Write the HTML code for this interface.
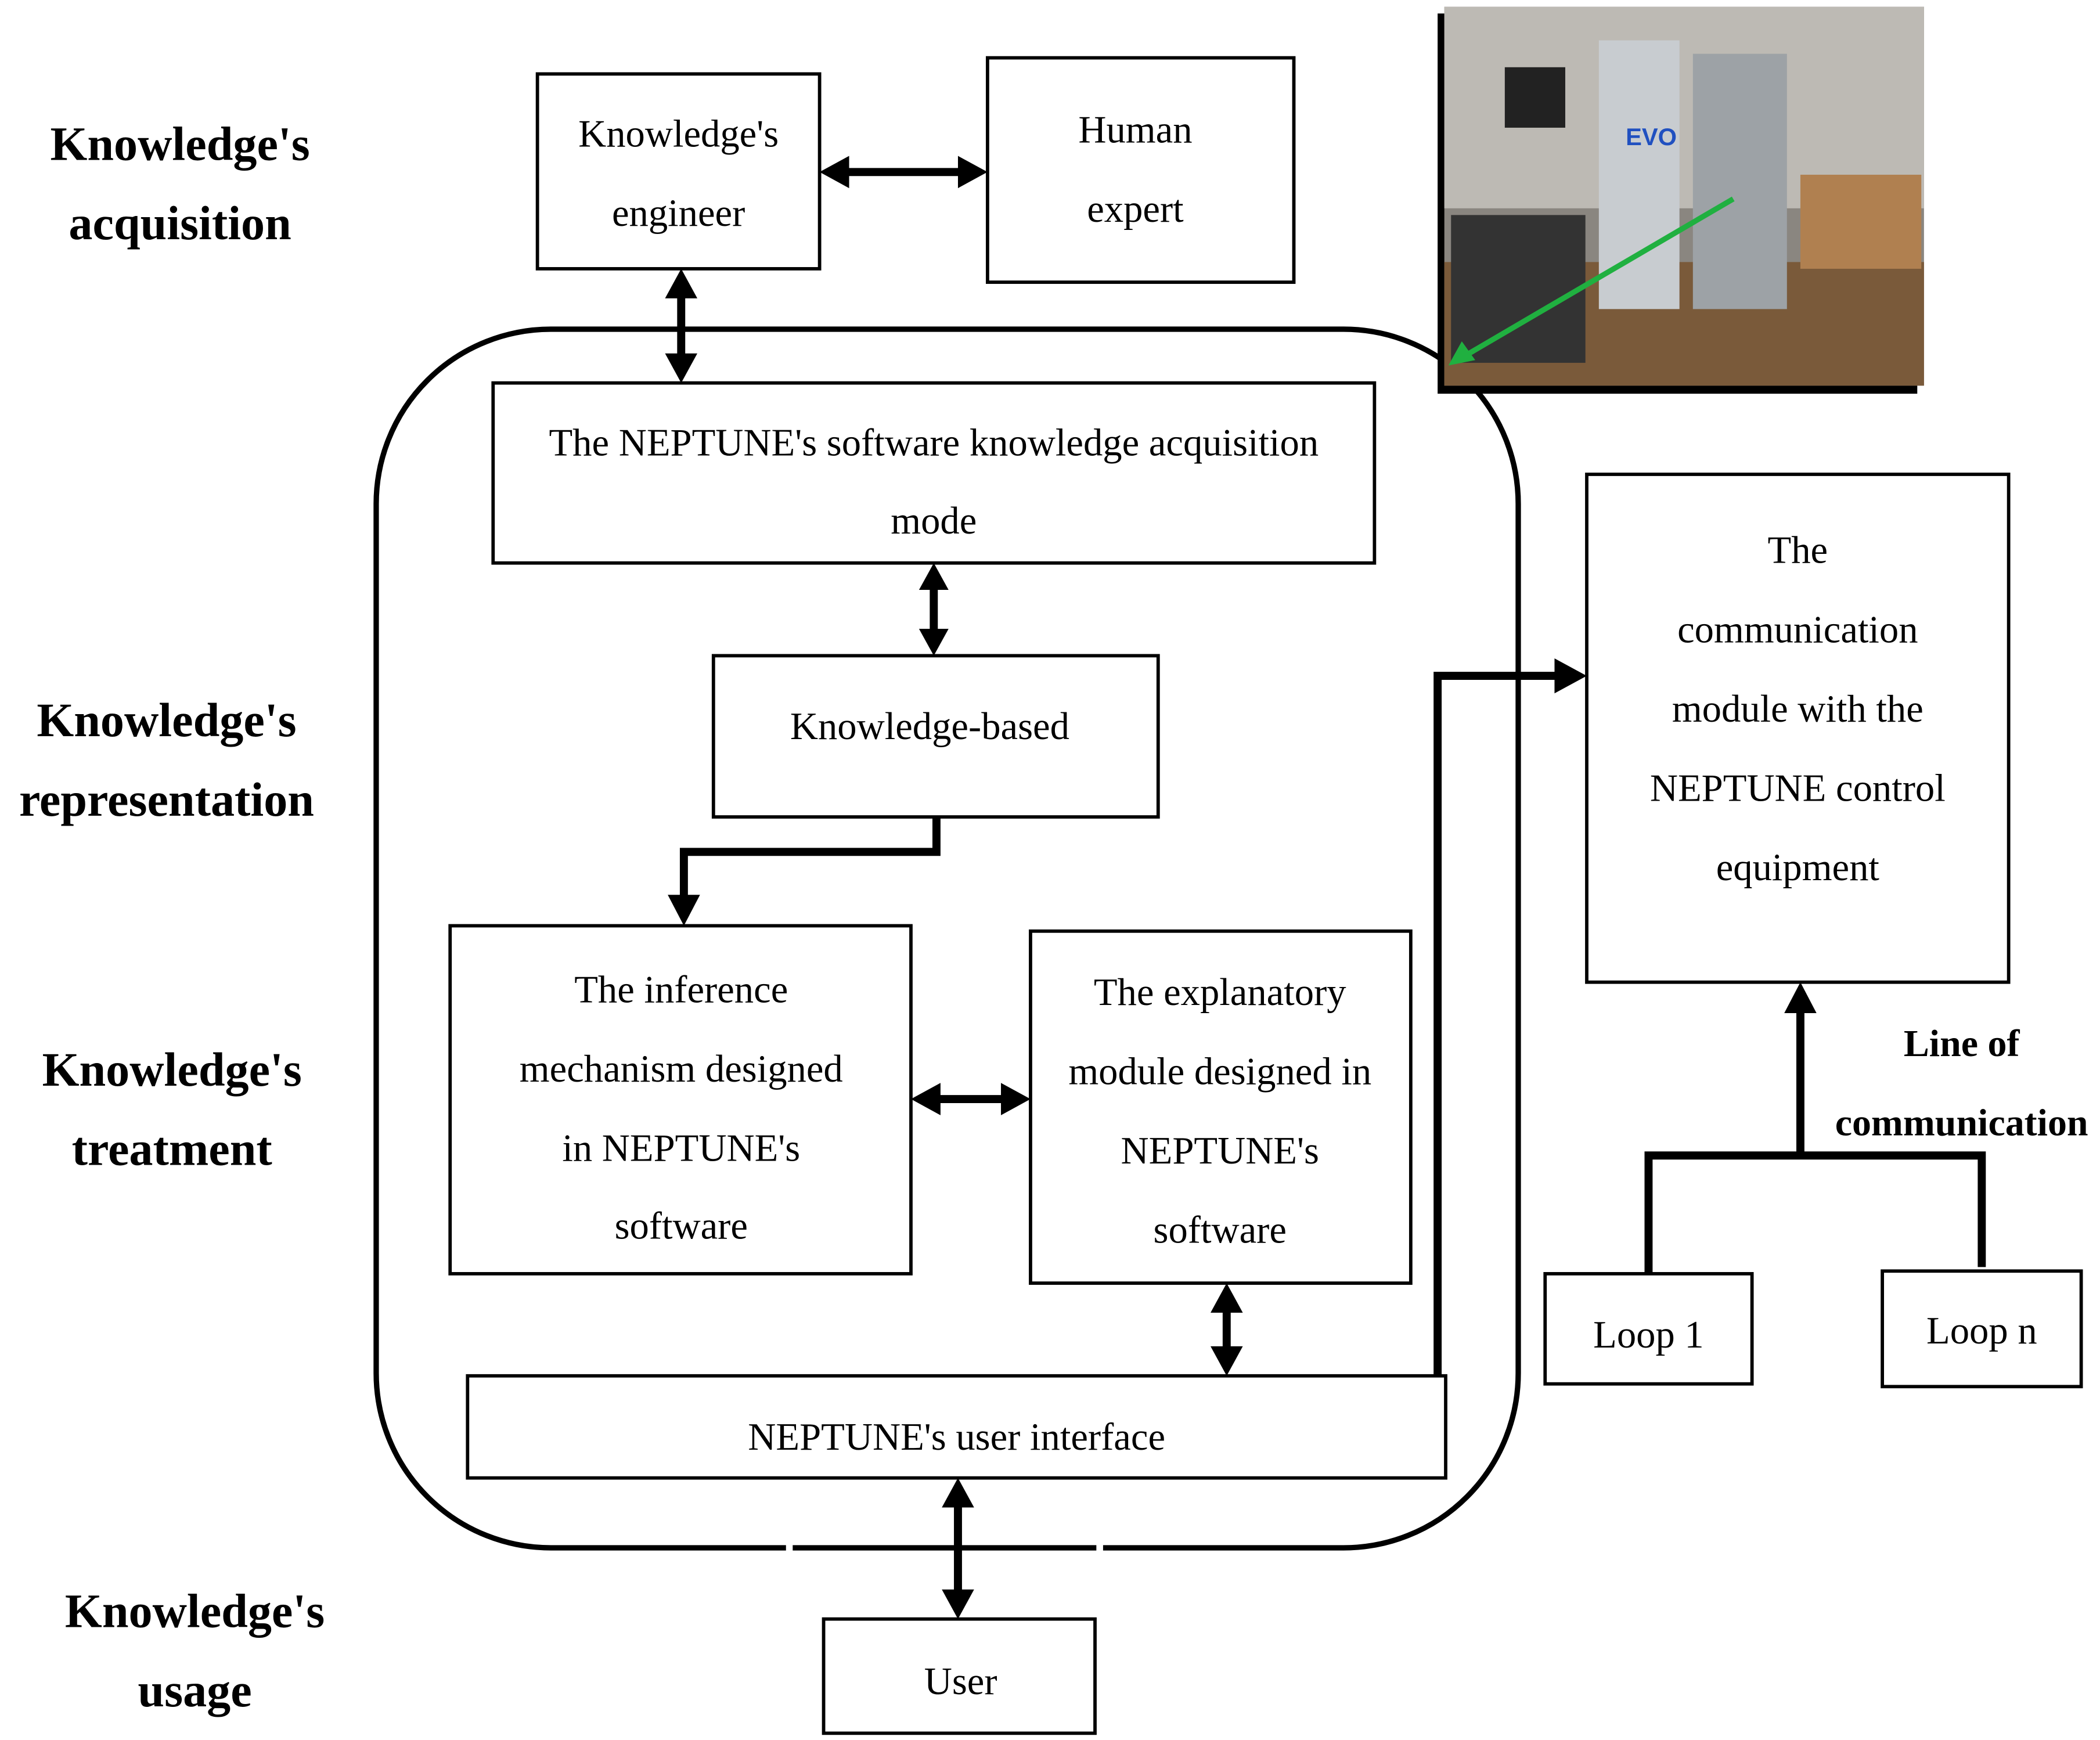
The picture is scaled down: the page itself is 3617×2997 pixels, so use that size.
<!DOCTYPE html>
<html><head><meta charset="utf-8"><style>html,body{margin:0;padding:0;background:#fff}svg{display:block}</style></head>
<body>
<svg width="3617" height="2997" viewBox="0 0 1563 1295" xmlns="http://www.w3.org/2000/svg" font-family="Liberation Serif, serif">
<g fill="none" stroke="#000">
<rect x="400" y="55" width="210" height="145" stroke-width="2.5"/>
<rect x="735" y="43" width="228" height="167" stroke-width="2.5"/>
<rect x="280" y="245" width="850" height="907" rx="130" stroke-width="4"/>
<rect x="367" y="285" width="656" height="134" stroke-width="2.5"/>
<rect x="531" y="488" width="331" height="120" stroke-width="2.5"/>
<rect x="335" y="689" width="343" height="259" stroke-width="2.5"/>
<rect x="767" y="693" width="283" height="262" stroke-width="2.5"/>
<rect x="348" y="1024" width="728" height="76" stroke-width="2.5" fill="#fff"/>
<rect x="1181" y="353" width="314" height="378" stroke-width="2.5"/>
<rect x="1150" y="948" width="154" height="82" stroke-width="2.5"/>
<rect x="1401" y="946" width="148" height="86" stroke-width="2.5"/>
<rect x="613" y="1205" width="202" height="85" stroke-width="2.5"/>
<g stroke-width="6">
<line x1="630" y1="128" x2="715" y2="128"/>
<line x1="507" y1="220" x2="507" y2="265"/>
<line x1="695" y1="437" x2="695" y2="470"/>
<polyline points="697,608 697,634 509,634 509,668"/>
<line x1="698" y1="818" x2="747" y2="818"/>
<line x1="913" y1="975" x2="913" y2="1005"/>
<polyline points="1070,1024 1070,503 1160,503"/>
<line x1="1340" y1="860" x2="1340" y2="752"/>
<polyline points="1227,948 1227,860 1475,860 1475,943"/>
<line x1="713" y1="1120" x2="713" y2="1185"/>
</g>
</g>
<g fill="#000">
<polygon points="610,128 632,116 632,140"/><polygon points="735,128 713,116 713,140"/>
<polygon points="507,200 495,222 519,222"/><polygon points="507,285 495,263 519,263"/>
<polygon points="695,419 684,439 706,439"/><polygon points="695,488 684,468 706,468"/>
<polygon points="509,689 497,666 521,666"/>
<polygon points="678,818 700,806 700,830"/><polygon points="767,818 745,806 745,830"/>
<polygon points="913,955 901,977 925,977"/><polygon points="913,1024 901,1002 925,1002"/>
<polygon points="1181,503 1157,490 1157,516"/>
<polygon points="1340,731 1328,754 1352,754"/>
<polygon points="713,1100 701,1122 725,1122"/><polygon points="713,1205 701,1183 725,1183"/>
</g>
<rect x="585" y="1148" width="5" height="8" fill="#fff"/><rect x="816" y="1148" width="5" height="8" fill="#fff"/>
<rect x="1070" y="10" width="357" height="283" fill="#000"/>
<rect x="1075" y="5" width="357" height="282" fill="#8a8680"/>
<rect x="1075" y="5" width="357" height="150" fill="#bdbab4"/>
<rect x="1075" y="195" width="357" height="92" fill="#7a5a3a"/>
<rect x="1120" y="50" width="45" height="45" fill="#222"/>
<rect x="1190" y="30" width="60" height="200" fill="#c8ccd0"/>
<rect x="1260" y="40" width="70" height="190" fill="#9da2a6"/>
<rect x="1340" y="130" width="90" height="70" fill="#b08050"/>
<rect x="1080" y="160" width="100" height="110" fill="#333"/>
<text x="1210" y="108" font-family="Liberation Sans, sans-serif" font-size="18" fill="#2050c0" font-weight="bold">EVO</text>
<line x1="1290" y1="148" x2="1090" y2="265" stroke="#20b040" stroke-width="4"/>
<polygon points="1078,272 1088,254 1098,268" fill="#20b040"/>
<g font-size="28.8" text-anchor="middle" fill="#000">
<text x="505" y="109">Knowledge's</text><text x="505" y="168">engineer</text>
<text x="845" y="106">Human</text><text x="845" y="165">expert</text>
<text x="695" y="339">The NEPTUNE's software knowledge acquisition</text><text x="695" y="397">mode</text>
<text x="692" y="550">Knowledge-based</text>
<text x="507" y="746">The inference</text><text x="507" y="805">mechanism designed</text><text x="507" y="864">in NEPTUNE's</text><text x="507" y="922">software</text>
<text x="908" y="748">The explanatory</text><text x="908" y="807">module designed in</text><text x="908" y="866">NEPTUNE's</text><text x="908" y="925">software</text>
<text x="712" y="1079">NEPTUNE's user interface</text>
<text x="1338" y="419">The</text><text x="1338" y="478">communication</text><text x="1338" y="537">module with the</text><text x="1338" y="596">NEPTUNE control</text><text x="1338" y="655">equipment</text>
<text x="1227" y="1003">Loop 1</text><text x="1475" y="1000">Loop n</text>
<text x="715" y="1261">User</text>
</g>
<g font-size="35.5" font-weight="bold" text-anchor="middle" fill="#000">
<text x="134" y="119">Knowledge's</text><text x="134" y="178">acquisition</text>
<text x="124" y="548">Knowledge's</text><text x="124" y="607">representation</text>
<text x="128" y="808">Knowledge's</text><text x="128" y="867">treatment</text>
<text x="145" y="1211">Knowledge's</text><text x="145" y="1270">usage</text>
<text x="1460" y="786" font-size="28.5">Line of</text><text x="1460" y="845" font-size="28.5">communication</text>
</g>
</svg>
</body></html>
